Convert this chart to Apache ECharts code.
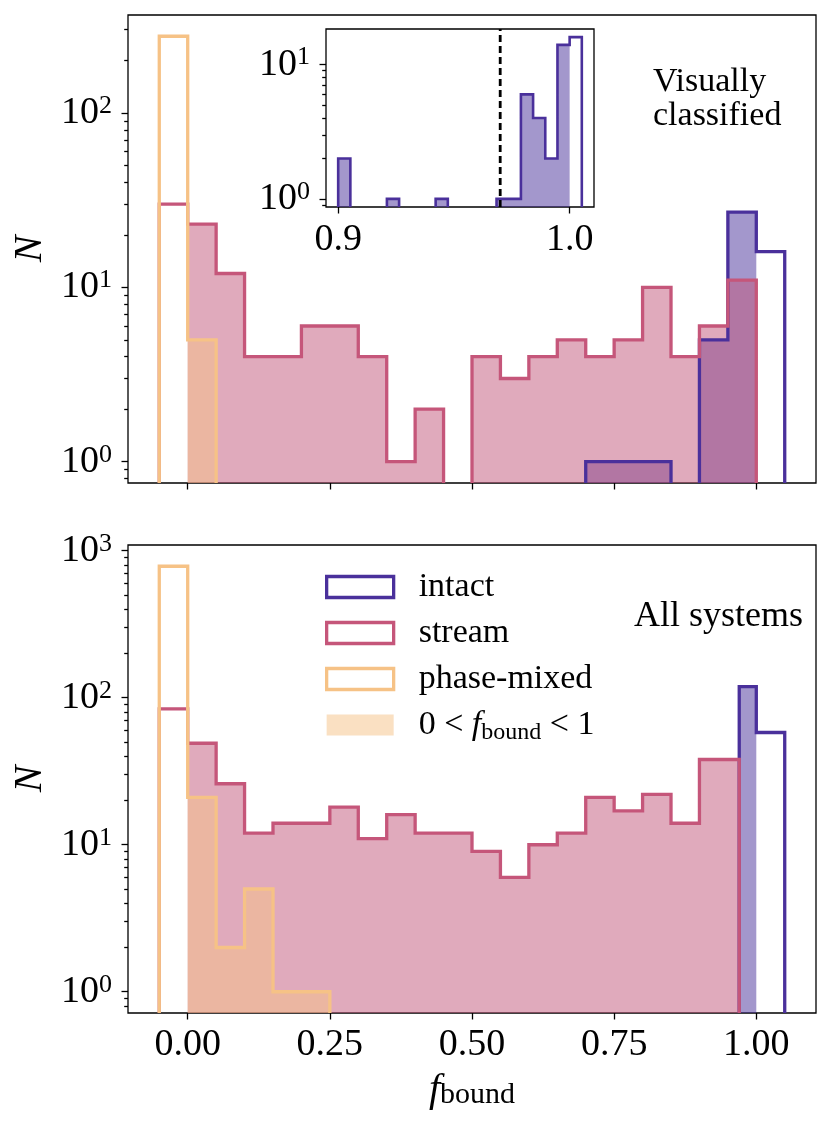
<!DOCTYPE html>
<html><head><meta charset="utf-8">
<script src="https://cdn.jsdelivr.net/npm/echarts@6/dist/echarts.min.js"></script>
<style>html,body{margin:0;padding:0;background:#fff}#c{width:831px;height:1128px}</style>
</head><body><div id="c"></div>
<script>
// ---------------- data ----------------
const binEdges = [-0.05,0,0.05,0.1,0.15,0.2,0.25,0.3,0.35,0.4,0.45,0.5,0.55,0.6,0.65,0.7,0.75,0.8,0.85,0.9,0.95,1.0,1.05];
const topIntact = [0,0,0,0,0,0,0,0,0,0,0,0,0,0,0,1,1,1,0,5,27,16];
const topStream = [30,23,12,4,4,6,6,4,1,2,0,4,3,4,5,4,5,10,4,6,11,0];
const topPhase  = [275,5,0,0,0,0,0,0,0,0,0,0,0,0,0,0,0,0,0,0,0,0];

const bottomStreamEdges = [-0.05,0,0.05,0.1,0.15,0.2,0.25,0.3,0.35,0.4,0.45,0.5,0.55,0.6,0.65,0.7,0.75,0.8,0.85,0.9,0.97];
const bottomStream = [84,49,26,12,14,14,18,11,16,12,12,9,6,10,12,21,17,22,14,38];
const bottomIntactEdges = [0.97,1.0,1.05];
const bottomIntact = [119,58];
const bottomPhase = [784,21,2,5,1,1,0,0,0,0,0,0,0,0,0,0,0,0,0,0,0,0];

const insetEdges = [0.9,0.90526,0.91053,0.91579,0.92105,0.92632,0.93158,0.93684,0.94211,0.94737,0.95263,0.95789,0.96316,0.96842,0.97368,0.97895,0.98421,0.98947,0.99474,1.0,1.00526];
const insetIntact = [2,0,0,0,1,0,0,0,1,0,0,0,0,1,1,6,4,2,14,16];
const insetThreshold = 0.97;

const xTickValues = [0,0.25,0.5,0.75,1.0];
const insetXTickValues = [0.9,1.0];
const topYTicks = [1,10,100];
const topYMinor = [0.8,0.9,2,3,4,5,6,7,8,9,20,30,40,50,60,70,80,90,200,300];
const bottomYTicks = [1,10,100,1000];
const bottomYMinor = [0.8,0.9,2,3,4,5,6,7,8,9,20,30,40,50,60,70,80,90,200,300,400,500,600,700,800,900];
const insetYTicks = [1,10];
const insetYMinor = [0.9,2,3,4,5,6,7,8,9];

// ---------------- style ----------------
const FONT = 'Liberation Serif';
const C_INTACT = '#4a309b';
const C_STREAM = '#c5567a';
const C_PHASE = '#f6c286';
const F_INTACT = 'rgba(71,47,153,0.5)';
const F_STREAM = 'rgba(194,85,122,0.5)';
const F_PHASE = 'rgba(245,193,133,0.5)';
const LOW = 1e-3;
const LW = 3.3;

function histSeries(name, kind, xi, yi, edges, counts, color, lw) {
  return {
    type: 'custom', name: name, xAxisIndex: xi, yAxisIndex: yi, clip: true,
    data: [[edges[0], 1]],
    encode: { x: 0, y: 1 },
    silent: true,
    renderItem: function (params, api) {
      const pts = [];
      if (kind === 'fill') {
        let first = -1, last = -1;
        for (let i = 0; i < counts.length; i++) {
          if (edges[i] >= 0 && edges[i + 1] <= 1.0000001) { if (first < 0) first = i; last = i; }
        }
        if (first < 0) return null;
        pts.push(api.coord([edges[first], LOW]));
        for (let i = first; i <= last; i++) {
          const v = counts[i] > 0 ? counts[i] : LOW;
          pts.push(api.coord([edges[i], v]));
          pts.push(api.coord([edges[i + 1], v]));
        }
        pts.push(api.coord([edges[last + 1], LOW]));
        return { type: 'polygon', shape: { points: pts }, style: { fill: color, stroke: null } };
      } else {
        pts.push(api.coord([edges[0], LOW]));
        for (let i = 0; i < counts.length; i++) {
          const v = counts[i] > 0 ? counts[i] : LOW;
          pts.push(api.coord([edges[i], v]));
          pts.push(api.coord([edges[i + 1], v]));
        }
        pts.push(api.coord([edges[edges.length - 1], LOW]));
        return { type: 'polyline', shape: { points: pts },
          style: { fill: null, stroke: color, lineWidth: lw, lineJoin: 'miter', lineCap: 'butt' } };
      }
    }
  };
}

function thresholdSeries(xi, yi) {
  return {
    type: 'custom', name: 'threshold', xAxisIndex: xi, yAxisIndex: yi, clip: true, silent: true,
    data: [[insetThreshold, 1]], encode: { x: 0, y: 1 },
    renderItem: function (params, api) {
      const p0 = api.coord([insetThreshold, 0.87]);
      const p1 = api.coord([insetThreshold, 18.4]);
      return { type: 'line', shape: { x1: p0[0], y1: p0[1], x2: p1[0], y2: p1[1] },
        style: { stroke: '#000', lineWidth: 2.8, lineDash: [7, 4] } };
    }
  };
}

const tickLine = { color: '#000', width: 1.3 };
const noLine = { show: false, onZero: false };
const supRich = {
  a: { fontFamily: FONT, fontSize: 38, lineHeight: 40, color: '#000' },
  s: { fontFamily: FONT, fontSize: 26, lineHeight: 24, verticalAlign: 'top', color: '#000' }
};
function supFormatter(v) { return '{a|10}{s|' + Math.round(Math.log10(v)) + '}'; }

function majorY(gridIndex, min, max, ticks, withName) {
  const ax = {
    type: 'log', logBase: 10, gridIndex: gridIndex, min: min, max: max, position: 'left', offset: 0,
    axisLine: noLine, splitLine: { show: false }, minorTick: { show: false },
    axisTick: { show: true, length: 6.5, customValues: ticks, lineStyle: tickLine },
    axisLabel: { customValues: ticks, margin: 16, formatter: supFormatter, rich: supRich }
  };
  if (withName) {
    ax.name = 'N'; ax.nameLocation = 'middle'; ax.nameGap = 78; ax.nameRotate = 90;
    ax.nameTextStyle = { fontFamily: FONT, fontStyle: 'italic', fontSize: 40, color: '#000' };
  }
  return ax;
}
function minorY(gridIndex, min, max, ticks) {
  return {
    type: 'log', logBase: 10, gridIndex: gridIndex, min: min, max: max, position: 'left', offset: 0,
    axisLine: noLine, splitLine: { show: false }, axisLabel: { show: false },
    axisTick: { show: true, length: 3.8, customValues: ticks, lineStyle: tickLine }
  };
}

const TOP_MIN = 0.7551, TOP_MAX = 364.1;
const BOT_MIN = 0.7166, BOT_MAX = 1094;
const INS_MIN = 0.8706, INS_MAX = 18.38;

const option = {
  backgroundColor: '#fff',
  animation: false,
  grid: [
    { left: 128, top: 15, width: 688, height: 468, show: true, borderColor: '#000', borderWidth: 1.3, backgroundColor: 'transparent' },
    { left: 128, top: 545, width: 688, height: 468, show: true, borderColor: '#000', borderWidth: 1.3, backgroundColor: 'transparent' },
    { left: 326, top: 29, width: 268, height: 178, show: true, borderColor: '#000', borderWidth: 1.3, backgroundColor: '#fff', z: 5 }
  ],
  xAxis: [
    { type: 'value', gridIndex: 0, min: -0.105, max: 1.105, position: 'bottom', axisLine: noLine, splitLine: { show: false },
      axisTick: { length: 6.5, customValues: xTickValues, lineStyle: tickLine }, axisLabel: { show: false } },
    { type: 'value', gridIndex: 1, min: -0.105, max: 1.105, position: 'bottom', axisLine: noLine, splitLine: { show: false },
      axisTick: { length: 6.5, customValues: xTickValues, lineStyle: tickLine },
      axisLabel: { customValues: xTickValues, margin: 13, formatter: v => v.toFixed(2), fontFamily: FONT, fontSize: 38, color: '#000' },
      name: '{f|f}{b|bound}', nameLocation: 'middle', nameGap: 57,
      nameTextStyle: { rich: {
        f: { fontFamily: FONT, fontStyle: 'italic', fontSize: 40, lineHeight: 40, color: '#000' },
        b: { fontFamily: FONT, fontSize: 30, lineHeight: 26, verticalAlign: 'bottom', color: '#000' } } } },
    { type: 'value', gridIndex: 2, min: 0.894737, max: 1.010526, position: 'bottom', axisLine: noLine, splitLine: { show: false },
      axisTick: { length: 6.5, customValues: insetXTickValues, lineStyle: tickLine },
      axisLabel: { customValues: insetXTickValues, margin: 14, formatter: v => v.toFixed(1), fontFamily: FONT, fontSize: 38, color: '#000' } }
  ],
  yAxis: [
    majorY(0, TOP_MIN, TOP_MAX, topYTicks, true),
    minorY(0, TOP_MIN, TOP_MAX, topYMinor),
    majorY(1, BOT_MIN, BOT_MAX, bottomYTicks, true),
    minorY(1, BOT_MIN, BOT_MAX, bottomYMinor),
    majorY(2, INS_MIN, INS_MAX, insetYTicks, false),
    minorY(2, INS_MIN, INS_MAX, insetYMinor)
  ],
  legend: {
    data: [
      { name: 'intact', itemStyle: { color: 'rgba(0,0,0,0)', borderColor: C_INTACT, borderWidth: 3.3 } },
      { name: 'stream', itemStyle: { color: 'rgba(0,0,0,0)', borderColor: C_STREAM, borderWidth: 3.3 } },
      { name: 'phase-mixed', itemStyle: { color: 'rgba(0,0,0,0)', borderColor: C_PHASE, borderWidth: 3.3 } },
      { name: 'fill', itemStyle: { color: F_PHASE, borderWidth: 0 } }
    ],
    orient: 'vertical', left: 325, top: 567, padding: 0, itemGap: 6,
    itemWidth: 67, itemHeight: 21, icon: 'rect', selectedMode: false,
    formatter: function (name) { return name === 'fill' ? '0 < {i|f}{s|bound} < 1' : name; },
    textStyle: { fontFamily: FONT, fontSize: 34, lineHeight: 40, color: '#000', padding: [0, 0, 0, 20],
      rich: {
        i: { fontFamily: FONT, fontStyle: 'italic', fontSize: 34, lineHeight: 40, color: '#000' },
        s: { fontFamily: FONT, fontSize: 24, lineHeight: 30, verticalAlign: 'bottom', color: '#000' } } }
  },
  graphic: [
    { type: 'text', x: 653, y: 99, z: 10, style: { text: 'Visually\nclassified', font: '34px "Liberation Serif"', fill: '#000', lineHeight: 34, align: 'left', verticalAlign: 'middle' } },
    { type: 'text', x: 803, y: 617, z: 10, style: { text: 'All systems', font: '36px "Liberation Serif"', fill: '#000', align: 'right', verticalAlign: 'middle' } }
  ],
  series: [
    histSeries('t-intact-fill', 'fill', 0, 0, binEdges, topIntact, F_INTACT),
    histSeries('t-stream-fill', 'fill', 0, 0, binEdges, topStream, F_STREAM),
    histSeries('fill', 'fill', 0, 0, binEdges, topPhase, F_PHASE),
    histSeries('intact', 'line', 0, 0, binEdges, topIntact, C_INTACT, LW),
    histSeries('stream', 'line', 0, 0, binEdges, topStream, C_STREAM, LW),
    histSeries('phase-mixed', 'line', 0, 0, binEdges, topPhase, C_PHASE, LW),
    histSeries('b-intact-fill', 'fill', 1, 2, bottomIntactEdges, bottomIntact, F_INTACT),
    histSeries('b-stream-fill', 'fill', 1, 2, bottomStreamEdges, bottomStream, F_STREAM),
    histSeries('b-phase-fill', 'fill', 1, 2, binEdges, bottomPhase, F_PHASE),
    histSeries('b-intact', 'line', 1, 2, bottomIntactEdges, bottomIntact, C_INTACT, LW),
    histSeries('b-stream', 'line', 1, 2, bottomStreamEdges, bottomStream, C_STREAM, LW),
    histSeries('b-phase', 'line', 1, 2, binEdges, bottomPhase, C_PHASE, LW),
    Object.assign(histSeries('i-intact-fill', 'fill', 2, 4, insetEdges, insetIntact, F_INTACT), { z: 6 }),
    Object.assign(histSeries('i-intact', 'line', 2, 4, insetEdges, insetIntact, C_INTACT, 2.6), { z: 6 }),
    Object.assign(thresholdSeries(2, 4), { z: 7 })
  ]
};
const chart = echarts.init(document.getElementById('c'), null, { renderer: 'canvas' });
chart.setOption(option);
</script></body></html>
